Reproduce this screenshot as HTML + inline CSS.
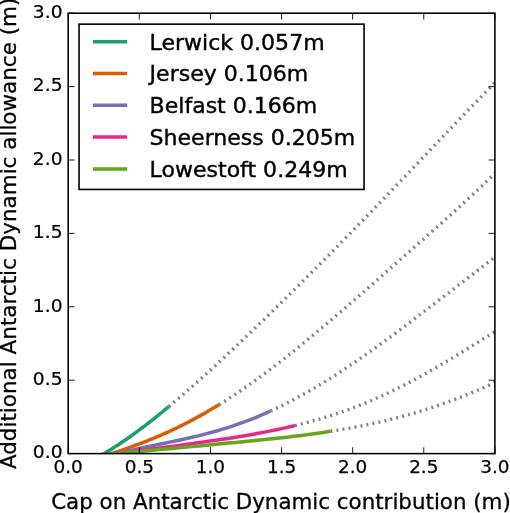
<!DOCTYPE html>
<html><head><meta charset="utf-8"><title>Antarctic Dynamic allowance</title>
<style>html,body{margin:0;padding:0;background:#fff}</style></head>
<body>
<svg width="510" height="513" viewBox="0 0 510 513" style="display:block;font-family:'DejaVu Sans','Liberation Sans',sans-serif">
<rect width="510" height="513" fill="#fff"/>
<defs><clipPath id="ax"><rect x="68.2" y="13.2" width="426.7" height="440.4"/></clipPath></defs>
<g clip-path="url(#ax)" fill="none">
<path d="M168.8 406.6 L174.3 401.9 L179.9 397.2 L185.4 392.4 L190.9 387.6 L196.4 382.7 L202.0 377.8 L207.5 372.8 L213.0 367.7 L218.5 362.6 L224.1 357.5 L229.6 352.3 L235.1 347.1 L240.7 341.9 L246.2 336.6 L251.7 331.3 L257.2 326.0 L262.8 320.7 L268.3 315.3 L273.8 309.9 L279.3 304.5 L284.9 299.0 L290.4 293.6 L295.9 288.1 L301.5 282.6 L307.0 277.1 L312.5 271.5 L318.0 266.0 L323.6 260.4 L329.1 254.8 L334.6 249.2 L340.1 243.6 L345.7 237.9 L351.2 232.3 L356.7 226.6 L362.2 220.9 L367.8 215.2 L373.3 209.5 L378.8 203.7 L384.4 198.0 L389.9 192.2 L395.4 186.5 L400.9 180.7 L406.5 174.9 L412.0 169.1 L417.5 163.3 L423.0 157.5 L428.6 151.7 L434.1 145.9 L439.6 140.1 L445.2 134.3 L450.7 128.5 L456.2 122.7 L461.7 116.9 L467.3 111.1 L472.8 105.4 L478.3 99.7 L483.8 94.0 L489.4 88.3 L494.9 82.7" stroke="#808080" stroke-width="3.4" stroke-dasharray="1.9 4.2"/>
<path d="M95.2 458.9 L105.2 453.0 L107.4 451.6 L109.6 450.3 L111.8 448.9 L114.0 447.5 L116.2 446.1 L118.4 444.7 L120.6 443.2 L122.7 441.7 L124.9 440.2 L127.1 438.7 L129.3 437.2 L131.5 435.6 L133.7 434.0 L135.9 432.4 L138.1 430.8 L140.3 429.2 L142.5 427.5 L144.7 425.9 L146.9 424.2 L149.1 422.5 L151.3 420.8 L153.4 419.0 L155.6 417.3 L157.8 415.5 L160.0 413.8 L162.2 412.0 L164.4 410.2 L166.6 408.4 L168.8 406.6" stroke="#1b9e77" stroke-width="3.5"/>
<path d="M219.0 404.7 L223.7 401.8 L228.4 398.8 L233.0 395.8 L237.7 392.7 L242.4 389.5 L247.1 386.2 L251.7 382.9 L256.4 379.6 L261.1 376.2 L265.8 372.7 L270.4 369.2 L275.1 365.7 L279.8 362.0 L284.5 358.4 L289.1 354.7 L293.8 351.0 L298.5 347.2 L303.2 343.4 L307.8 339.5 L312.5 335.6 L317.2 331.7 L321.9 327.8 L326.6 323.9 L331.2 319.9 L335.9 315.9 L340.6 311.9 L345.3 307.8 L349.9 303.8 L354.6 299.7 L359.3 295.6 L364.0 291.5 L368.6 287.5 L373.3 283.4 L378.0 279.2 L382.7 275.1 L387.3 271.0 L392.0 266.9 L396.7 262.8 L401.4 258.6 L406.1 254.5 L410.7 250.4 L415.4 246.2 L420.1 242.1 L424.8 238.0 L429.4 233.8 L434.1 229.6 L438.8 225.5 L443.5 221.3 L448.1 217.1 L452.8 212.9 L457.5 208.6 L462.2 204.3 L466.8 200.1 L471.5 195.7 L476.2 191.4 L480.9 187.0 L485.5 182.5 L490.2 178.0 L494.9 173.5" stroke="#808080" stroke-width="3.4" stroke-dasharray="1.9 4.2"/>
<path d="M103.1 456.4 L113.1 453.1 L116.8 451.9 L120.4 450.7 L124.1 449.4 L127.7 448.1 L131.4 446.8 L135.0 445.5 L138.7 444.2 L142.3 442.8 L146.0 441.3 L149.6 439.9 L153.3 438.4 L156.9 436.9 L160.6 435.3 L164.2 433.7 L167.9 432.1 L171.5 430.4 L175.2 428.7 L178.8 426.9 L182.5 425.1 L186.1 423.2 L189.8 421.4 L193.4 419.4 L197.1 417.4 L200.7 415.4 L204.4 413.4 L208.0 411.3 L211.7 409.1 L215.3 406.9 L219.0 404.7" stroke="#d95f02" stroke-width="3.5"/>
<path d="M270.6 411.0 L274.4 409.3 L278.2 407.4 L282.0 405.6 L285.8 403.7 L289.6 401.8 L293.4 399.8 L297.2 397.7 L301.0 395.7 L304.8 393.6 L308.6 391.4 L312.4 389.2 L316.2 387.0 L320.0 384.7 L323.8 382.4 L327.6 380.0 L331.4 377.6 L335.2 375.2 L339.0 372.7 L342.8 370.2 L346.6 367.7 L350.4 365.2 L354.2 362.6 L358.0 360.0 L361.8 357.3 L365.6 354.7 L369.4 352.0 L373.2 349.3 L377.0 346.6 L380.8 343.8 L384.7 341.0 L388.5 338.3 L392.3 335.5 L396.1 332.7 L399.9 329.8 L403.7 327.0 L407.5 324.1 L411.3 321.3 L415.1 318.4 L418.9 315.5 L422.7 312.6 L426.5 309.7 L430.3 306.8 L434.1 303.9 L437.9 301.0 L441.7 298.1 L445.5 295.2 L449.3 292.3 L453.1 289.3 L456.9 286.4 L460.7 283.5 L464.5 280.6 L468.3 277.6 L472.1 274.7 L475.9 271.8 L479.7 268.8 L483.5 265.9 L487.3 262.9 L491.1 260.0 L494.9 257.0" stroke="#808080" stroke-width="3.4" stroke-dasharray="1.9 4.2"/>
<path d="M108.5 456.3 L118.5 453.5 L123.7 452.1 L129.0 450.8 L134.2 449.6 L139.5 448.4 L144.7 447.2 L150.0 446.2 L155.2 445.1 L160.5 444.0 L165.7 443.0 L170.9 441.9 L176.2 440.8 L181.4 439.7 L186.7 438.5 L191.9 437.3 L197.2 436.1 L202.4 434.8 L207.7 433.4 L212.9 432.0 L218.2 430.5 L223.4 428.9 L228.6 427.3 L233.9 425.6 L239.1 423.7 L244.4 421.8 L249.6 419.9 L254.9 417.8 L260.1 415.6 L265.4 413.4 L270.6 411.0" stroke="#7570b3" stroke-width="3.5"/>
<path d="M295.0 425.6 L298.4 424.7 L301.8 423.9 L305.2 423.0 L308.6 422.1 L311.9 421.2 L315.3 420.2 L318.7 419.3 L322.1 418.3 L325.5 417.2 L328.9 416.2 L332.3 415.1 L335.7 414.0 L339.0 412.9 L342.4 411.7 L345.8 410.5 L349.2 409.3 L352.6 408.0 L356.0 406.7 L359.4 405.4 L362.8 404.0 L366.2 402.7 L369.5 401.3 L372.9 399.8 L376.3 398.3 L379.7 396.8 L383.1 395.3 L386.5 393.7 L389.9 392.1 L393.3 390.5 L396.6 388.9 L400.0 387.2 L403.4 385.5 L406.8 383.7 L410.2 381.9 L413.6 380.1 L417.0 378.3 L420.4 376.5 L423.7 374.6 L427.1 372.7 L430.5 370.8 L433.9 368.8 L437.3 366.9 L440.7 364.9 L444.1 362.9 L447.5 360.8 L450.9 358.8 L454.2 356.8 L457.6 354.7 L461.0 352.6 L464.4 350.6 L467.8 348.5 L471.2 346.4 L474.6 344.3 L478.0 342.2 L481.3 340.1 L484.7 338.0 L488.1 336.0 L491.5 333.9 L494.9 331.8" stroke="#808080" stroke-width="3.4" stroke-dasharray="1.9 4.2"/>
<path d="M108.5 454.3 L118.5 453.2 L124.6 452.5 L130.7 451.7 L136.8 451.0 L142.8 450.2 L148.9 449.4 L155.0 448.6 L161.1 447.8 L167.2 447.0 L173.3 446.2 L179.4 445.4 L185.4 444.5 L191.5 443.7 L197.6 442.8 L203.7 442.0 L209.8 441.1 L215.9 440.2 L222.0 439.3 L228.1 438.4 L234.1 437.4 L240.2 436.4 L246.3 435.4 L252.4 434.4 L258.5 433.3 L264.6 432.1 L270.7 430.9 L276.7 429.7 L282.8 428.4 L288.9 427.0 L295.0 425.6" stroke="#e7298a" stroke-width="3.5"/>
<path d="M330.5 431.3 L333.3 430.9 L336.1 430.5 L338.9 430.0 L341.6 429.5 L344.4 429.1 L347.2 428.6 L350.0 428.1 L352.8 427.6 L355.6 427.0 L358.4 426.5 L361.2 426.0 L363.9 425.4 L366.7 424.8 L369.5 424.3 L372.3 423.7 L375.1 423.1 L377.9 422.4 L380.7 421.8 L383.4 421.2 L386.2 420.5 L389.0 419.8 L391.8 419.1 L394.6 418.4 L397.4 417.7 L400.2 417.0 L402.9 416.2 L405.7 415.5 L408.5 414.7 L411.3 413.9 L414.1 413.1 L416.9 412.3 L419.7 411.4 L422.5 410.6 L425.2 409.7 L428.0 408.8 L430.8 407.9 L433.6 407.0 L436.4 406.0 L439.2 405.1 L442.0 404.1 L444.7 403.1 L447.5 402.1 L450.3 401.1 L453.1 400.1 L455.9 399.0 L458.7 397.9 L461.5 396.9 L464.2 395.7 L467.0 394.6 L469.8 393.5 L472.6 392.3 L475.4 391.2 L478.2 390.0 L481.0 388.8 L483.8 387.6 L486.5 386.3 L489.3 385.1 L492.1 383.8 L494.9 382.5" stroke="#808080" stroke-width="3.4" stroke-dasharray="1.9 4.2"/>
<path d="M108.5 454.2 L118.5 453.3 L125.8 452.7 L133.1 452.1 L140.4 451.4 L147.7 450.7 L155.1 450.0 L162.4 449.3 L169.7 448.7 L177.0 448.0 L184.3 447.3 L191.6 446.6 L198.9 445.9 L206.2 445.2 L213.5 444.5 L220.8 443.8 L228.2 443.1 L235.5 442.5 L242.8 441.8 L250.1 441.0 L257.4 440.3 L264.7 439.6 L272.0 438.8 L279.3 438.0 L286.6 437.2 L293.9 436.3 L301.3 435.4 L308.6 434.5 L315.9 433.5 L323.2 432.4 L330.5 431.3" stroke="#66a61e" stroke-width="3.5"/>
</g>
<rect x="68.2" y="13.2" width="426.7" height="440.4" fill="none" stroke="#000" stroke-width="1.55"/>
<path d="M68.20 453.6 v-6.3 M68.20 13.2 v6.3 M68.2 453.60 h6.3 M494.9 453.60 h-6.3 M139.32 453.6 v-6.3 M139.32 13.2 v6.3 M68.2 380.20 h6.3 M494.9 380.20 h-6.3 M210.43 453.6 v-6.3 M210.43 13.2 v6.3 M68.2 306.80 h6.3 M494.9 306.80 h-6.3 M281.55 453.6 v-6.3 M281.55 13.2 v6.3 M68.2 233.40 h6.3 M494.9 233.40 h-6.3 M352.67 453.6 v-6.3 M352.67 13.2 v6.3 M68.2 160.00 h6.3 M494.9 160.00 h-6.3 M423.78 453.6 v-6.3 M423.78 13.2 v6.3 M68.2 86.60 h6.3 M494.9 86.60 h-6.3 M494.90 453.6 v-6.3 M494.90 13.2 v6.3 M68.2 13.20 h6.3 M494.9 13.20 h-6.3" stroke="#000" stroke-width="0.9" fill="none"/>
<g font-size="18.4px" fill="#000" stroke="#000" stroke-width="0.25">
<text transform="translate(68.20 473.3) scale(1.0 1)" text-anchor="middle">0.0</text>
<text transform="translate(62.5 458.30) scale(1.015 1)" text-anchor="end">0.0</text>
<text transform="translate(139.32 473.3) scale(1.0 1)" text-anchor="middle">0.5</text>
<text transform="translate(62.5 384.90) scale(1.015 1)" text-anchor="end">0.5</text>
<text transform="translate(210.43 473.3) scale(1.0 1)" text-anchor="middle">1.0</text>
<text transform="translate(62.5 311.50) scale(1.015 1)" text-anchor="end">1.0</text>
<text transform="translate(281.55 473.3) scale(1.0 1)" text-anchor="middle">1.5</text>
<text transform="translate(62.5 238.10) scale(1.015 1)" text-anchor="end">1.5</text>
<text transform="translate(352.67 473.3) scale(1.0 1)" text-anchor="middle">2.0</text>
<text transform="translate(62.5 164.70) scale(1.015 1)" text-anchor="end">2.0</text>
<text transform="translate(423.78 473.3) scale(1.0 1)" text-anchor="middle">2.5</text>
<text transform="translate(62.5 91.30) scale(1.015 1)" text-anchor="end">2.5</text>
<text transform="translate(494.90 473.3) scale(1.0 1)" text-anchor="middle">3.0</text>
<text transform="translate(62.5 17.90) scale(1.015 1)" text-anchor="end">3.0</text>
</g>
<rect x="79.05" y="24.15" width="285" height="165.3" fill="#fff" stroke="#000" stroke-width="1.6"/>
<path d="M92.9 41.7 H127.2" stroke="#1b9e77" stroke-width="3.5"/>
<text transform="translate(149.6 49.5) scale(1.035 1)" font-size="21.3px" stroke="#000" stroke-width="0.4">Lerwick 0.057m</text>
<path d="M92.9 73.5 H127.2" stroke="#d95f02" stroke-width="3.5"/>
<text transform="translate(149.6 81.2) scale(1.035 1)" font-size="21.3px" stroke="#000" stroke-width="0.4">Jersey 0.106m</text>
<path d="M92.9 105.3 H127.2" stroke="#7570b3" stroke-width="3.5"/>
<text transform="translate(149.6 113.1) scale(1.035 1)" font-size="21.3px" stroke="#000" stroke-width="0.4">Belfast 0.166m</text>
<path d="M92.9 137.1 H127.2" stroke="#e7298a" stroke-width="3.5"/>
<text transform="translate(149.6 144.9) scale(1.035 1)" font-size="21.3px" stroke="#000" stroke-width="0.4">Sheerness 0.205m</text>
<path d="M92.9 168.9 H127.2" stroke="#66a61e" stroke-width="3.5"/>
<text transform="translate(149.6 176.7) scale(1.035 1)" font-size="21.3px" stroke="#000" stroke-width="0.4">Lowestoft 0.249m</text>
<text x="281" y="509.0" font-size="21.4px" text-anchor="middle" stroke="#000" stroke-width="0.3">Cap on Antarctic Dynamic contribution (m)</text>
<text transform="translate(16.3 233.35) rotate(-90)" font-size="21.49px" text-anchor="middle" stroke="#000" stroke-width="0.3">Additional Antarctic Dynamic allowance (m)</text>
</svg>
</body></html>
